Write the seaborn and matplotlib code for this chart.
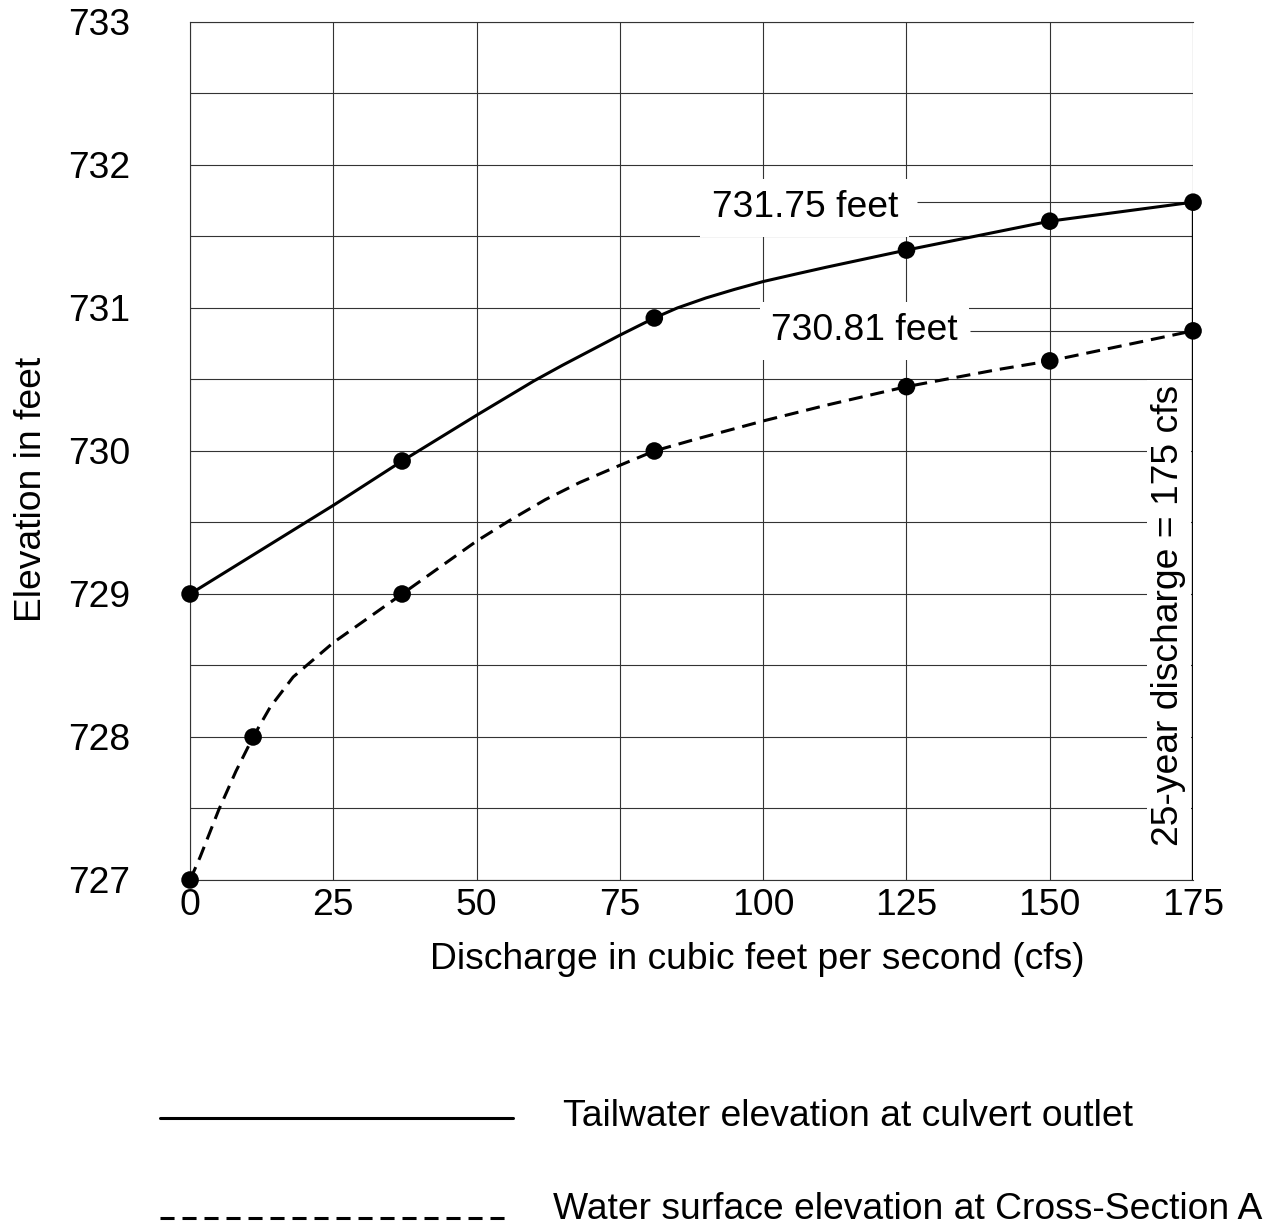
import numpy as np
import pandas as pd
import matplotlib.pyplot as plt
from matplotlib.lines import Line2D
import seaborn as sns

# traced points along the two curves
tail_curve_x = [0, 25, 37, 50, 60, 65, 70, 75, 81, 85, 90, 95, 100, 106, 111, 118, 125,
                138, 150, 175]
tail_curve_y = [729.0, 729.62, 729.93, 730.25, 730.49, 730.6, 730.705, 730.81, 730.93,
                731.0, 731.07, 731.13, 731.185, 731.24, 731.285, 731.345, 731.405,
                731.51, 731.607, 731.74]

ws_curve_x = [0, 1.75, 5, 8, 11, 14, 18, 25, 37, 50, 56, 62, 68, 75, 81, 88, 100, 111, 125,
              141, 150, 175]
ws_curve_y = [727.0, 727.16, 727.49, 727.76, 728.0, 728.21, 728.42, 728.66, 729.0, 729.37,
              729.52, 729.66, 729.78, 729.9, 730.0, 730.08, 730.21, 730.32, 730.45,
              730.57, 730.63, 730.84]

# plotted points (dots)
tail_x = [0, 37, 81, 125, 150, 175]
tail_y = [729.0, 729.93, 730.93, 731.405, 731.607, 731.74]
ws_x = [0, 11, 37, 81, 125, 150, 175]
ws_y = [727.0, 728.0, 729.0, 730.0, 730.45, 730.63, 730.84]

discharge_25yr = 175
x_ticks = [0, 25, 50, 75, 100, 125, 150, 175]
y_ticks = [727, 728, 729, 730, 731, 732, 733]

sns.set_style("white")
plt.rcParams['font.family'] = ['Liberation Sans', 'DejaVu Sans']
plt.rcParams['text.color'] = 'black'
plt.rcParams['axes.labelcolor'] = 'black'
plt.rcParams['xtick.color'] = 'black'
plt.rcParams['ytick.color'] = 'black'
FS = 26.8
GRID = '#333333'
DASH = (0, (4.6, 2.6))

fig = plt.figure(figsize=(12.73, 12.28), dpi=100)
ax = fig.add_axes([0.1493, 0.2834, 0.7879, 0.6987])

# curves
sns.lineplot(x=tail_curve_x, y=tail_curve_y, ax=ax, color='black', lw=2.2, zorder=4)
sns.lineplot(x=ws_curve_x, y=ws_curve_y, ax=ax, color='black', lw=2.2,
             linestyle=DASH, zorder=4)

# dots
sns.scatterplot(x=tail_x, y=tail_y, ax=ax, color='black', s=160, edgecolor='none',
                zorder=6, clip_on=False)
sns.scatterplot(x=ws_x, y=ws_y, ax=ax, color='black', s=160, edgecolor='none',
                zorder=6, clip_on=False)

# 25-year discharge line
ax.vlines(discharge_25yr, 727, tail_y[-1], color='black', lw=2.4, zorder=5)

ax.set_xlim(0, 175)
ax.set_ylim(727, 733)
ax.set_xticks(x_ticks)
ax.set_yticks(y_ticks)
ax.set_yticks(np.arange(727.5, 733, 1.0), minor=True)
ax.grid(True, which='both', color=GRID, lw=0.8)
for s in ax.spines.values():
    s.set_color(GRID)
    s.set_linewidth(0.8)
ax.spines['right'].set_visible(False)

ax.tick_params(axis='y', which='both', length=0, pad=43, labelsize=FS)
ax.tick_params(axis='x', which='both', length=0, pad=6, labelsize=FS)

ax.set_xlabel("Discharge in cubic feet per second (cfs)", fontsize=FS)
ax.set_ylabel("Elevation in feet", fontsize=FS)
ax.xaxis.set_label_coords(0.5653, -0.072)
ax.yaxis.set_label_coords(-0.1406, 0.4557)

# value call-outs
box = dict(boxstyle='square,pad=0.3', fc='white', ec='none')
ax.text(123.5, 731.70, "731.75 feet", fontsize=FS, ha='right', va='center', bbox=box, zorder=3)
ax.hlines(tail_y[-1], 126.9, 175, color=GRID, lw=0.8, zorder=3)
ax.text(134.0, 730.84, "730.81 feet", fontsize=FS, ha='right', va='center', bbox=box, zorder=3)
ax.hlines(ws_y[-1], 136.1, 175, color=GRID, lw=0.8, zorder=3)
ax.text(170.8, 728.85, "25-year discharge = 175 cfs", fontsize=FS, rotation=90,
        ha='center', va='center', zorder=3,
        bbox=dict(boxstyle='square,pad=0.12', fc='white', ec='none'))

# legend below the chart
fig.add_artist(Line2D([0.1257, 0.4030], [0.0896, 0.0896], color='black', lw=2.2))
fig.add_artist(Line2D([0.1257, 0.4006], [0.0081, 0.0081], color='black', lw=2.2,
                      linestyle=DASH))
fig.text(0.4423, 0.0912, "Tailwater elevation at culvert outlet", fontsize=FS, va='center')
fig.text(0.4344, 0.0147, "Water surface elevation at Cross-Section A", fontsize=FS, va='center')

fig.savefig("out.png", dpi=100)
